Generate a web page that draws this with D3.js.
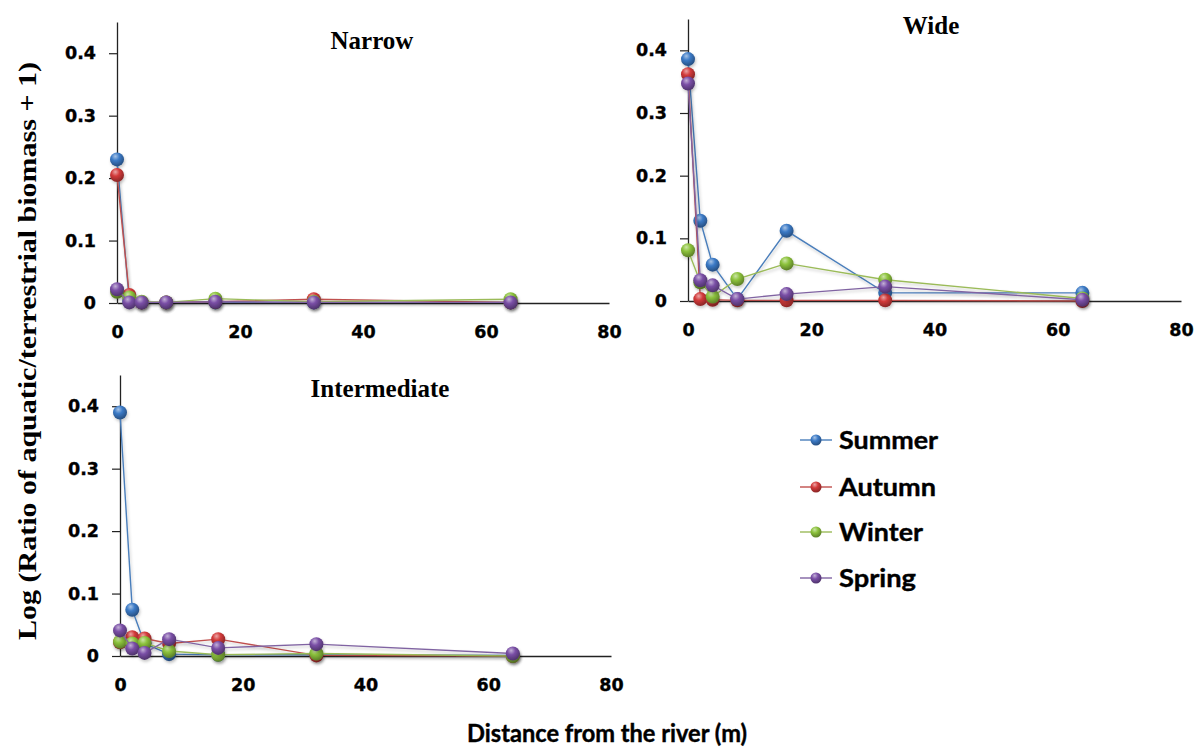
<!DOCTYPE html>
<html>
<head>
<meta charset="utf-8">
<script src="https://cdnjs.cloudflare.com/ajax/libs/d3/7.8.5/d3.min.js"></script>
<style>
  body { margin: 0; background: #fff; }
  svg { display: block; }
</style>
</head>
<body>
<svg id="chart" width="1196" height="749"></svg>
<script>
// Sampling distances (m) from the river
const distances = [0, 2, 4, 8, 16, 32, 64];
const seasons = ["Summer", "Autumn", "Winter", "Spring"];

// Narrow riparian zone
const narrowSummer = [0.230, 0.003, 0.001, 0.001, 0.001, 0.001, 0.001];
const narrowAutumn = [0.205, 0.013, 0.001, 0.001, 0.002, 0.006, 0.001];
const narrowWinter = [0.018, 0.009, 0.002, 0.001, 0.007, 0.002, 0.006];
const narrowSpring = [0.022, 0.001, 0.001, 0.001, 0.002, 0.001, 0.001];

// Wide riparian zone
const wideSummer = [0.386, 0.128, 0.058, 0.003, 0.112, 0.013, 0.013];
const wideAutumn = [0.362, 0.003, 0.002, 0.001, 0.001, 0.001, 0.000];
const wideWinter = [0.081, 0.030, 0.007, 0.035, 0.060, 0.034, 0.004];
const wideSpring = [0.347, 0.033, 0.025, 0.003, 0.011, 0.023, 0.002];

// Intermediate riparian zone
const interSummer = [0.390, 0.074, 0.020, 0.003, 0.002, 0.002, 0.001];
const interAutumn = [0.022, 0.030, 0.028, 0.020, 0.027, 0.001, 0.000];
const interWinter = [0.023, 0.020, 0.021, 0.008, 0.002, 0.004, 0.000];
const interSpring = [0.041, 0.012, 0.005, 0.027, 0.013, 0.019, 0.004];

const xTicks = [0, 20, 40, 60, 80];
const yTicks = [0, 0.1, 0.2, 0.3, 0.4];

const palette = {
  Summer: { line: "#4a7ebb", fill: "#3b7ac6" },
  Autumn: { line: "#c0504d", fill: "#d23a3a" },
  Winter: { line: "#9bbb59", fill: "#8cc23c" },
  Spring: { line: "#8064a2", fill: "#7a4fa6" }
};

const panels = [
  { title: "Narrow", series: [narrowSummer, narrowAutumn, narrowWinter, narrowSpring],
    left: 117, right: 609, base: 303, top: 22, titleX: 372, titleY: 49 },
  { title: "Wide", series: [wideSummer, wideAutumn, wideWinter, wideSpring],
    left: 688, right: 1181, base: 301, top: 19, titleX: 931, titleY: 34 },
  { title: "Intermediate", series: [interSummer, interAutumn, interWinter, interSpring],
    left: 120, right: 611, base: 656, top: 375, titleX: 380, titleY: 397 }
];

const svg = d3.select("#chart");
const defs = svg.append("defs");

// Glossy sphere gradients for markers
seasons.forEach(s => {
  const c = d3.color(palette[s].fill);
  const g = defs.append("radialGradient")
    .attr("id", "ball-" + s)
    .attr("cx", "40%").attr("cy", "32%").attr("r", "65%")
    .attr("fx", "38%").attr("fy", "28%");
  g.append("stop").attr("offset", "0%").attr("stop-color", d3.interpolateRgb(c, "#ffffff")(0.55));
  g.append("stop").attr("offset", "45%").attr("stop-color", c.formatHex());
  g.append("stop").attr("offset", "100%").attr("stop-color", c.darker(1.1).formatHex());
});

const shadow = defs.append("filter").attr("id", "soft-shadow")
  .attr("x", "-10%").attr("y", "-10%").attr("width", "130%").attr("height", "130%");
shadow.append("feDropShadow")
  .attr("dx", 1).attr("dy", 2).attr("stdDeviation", 1.6)
  .attr("flood-color", "#000").attr("flood-opacity", 0.22);

const tickFont = "'DejaVu Sans', Verdana, sans-serif";

function styleTickText(sel) {
  sel.attr("font-family", tickFont).attr("font-weight", "bold")
    .attr("font-size", 17.5).attr("fill", "#000")
    .attr("stroke", "#000").attr("stroke-width", 0.35);
}

panels.forEach(p => {
  const x = d3.scaleLinear().domain([0, 80]).range([p.left, p.right]);
  const y = d3.scaleLinear().domain([0, 0.45]).range([p.base, p.top]);

  const g = svg.append("g");

  // Y axis
  const yAxis = d3.axisLeft(y)
    .tickValues(yTicks)
    .tickSize(8)
    .tickSizeOuter(0)
    .tickPadding(13)
    .tickFormat(d => d === 0 ? "0" : d3.format(".1f")(d));
  const ya = g.append("g").attr("transform", `translate(${p.left},0)`).call(yAxis);
  ya.select(".domain").attr("stroke", "#222").attr("stroke-width", 1.3);
  ya.selectAll(".tick line").attr("stroke", "#222").attr("stroke-width", 1.2);
  ya.selectAll(".tick text").call(styleTickText);

  // X axis
  const xAxis = d3.axisBottom(x)
    .tickValues(xTicks)
    .tickSize(0)
    .tickSizeOuter(0)
    .tickPadding(23)
    .tickFormat(d3.format("d"));
  const xa = g.append("g").attr("transform", `translate(0,${p.base})`).call(xAxis);
  xa.select(".domain").attr("stroke", "#222").attr("stroke-width", 1.5);
  xa.selectAll(".tick text").call(styleTickText);

  // Panel title
  g.append("text")
    .attr("x", p.titleX).attr("y", p.titleY)
    .attr("text-anchor", "middle")
    .attr("font-family", "'Liberation Serif', 'Times New Roman', serif")
    .attr("font-weight", "bold").attr("font-size", 25)
    .text(p.title);

  // Series: lines then glossy markers
  const line = d3.line().x(d => x(d.d)).y(d => y(d.v));
  p.series.forEach((vals, i) => {
    const s = seasons[i];
    const pts = distances.map((d, k) => ({ d, v: vals[k] }));
    const sg = g.append("g").attr("filter", "url(#soft-shadow)");
    sg.append("path").datum(pts)
      .attr("d", line).attr("fill", "none")
      .attr("stroke", palette[s].line).attr("stroke-width", 1.4);
    sg.selectAll("circle").data(pts).join("circle")
      .attr("cx", d => x(d.d)).attr("cy", d => y(d.v))
      .attr("r", 7)
      .attr("fill", `url(#ball-${s})`);
  });
});

// Legend
const legendY = [440, 487, 532, 578];
const legendWidths = [99, 97, 84, 77];
const lg = svg.append("g");
seasons.forEach((s, i) => {
  const row = lg.append("g").attr("transform", `translate(0,${legendY[i]})`);
  row.append("line").attr("x1", 800).attr("x2", 832).attr("y1", 0).attr("y2", 0)
    .attr("stroke", palette[s].line).attr("stroke-width", 1.4);
  row.append("circle").attr("cx", 816).attr("cy", 0).attr("r", 5.5)
    .attr("fill", `url(#ball-${s})`);
  row.append("text").attr("x", 839).attr("y", 0).attr("dy", "0.36em")
    .attr("font-family", "Lato, 'Open Sans', sans-serif")
    .attr("font-weight", "bold").attr("font-size", 25)
    .attr("stroke", "#000").attr("stroke-width", 0.4)
    .attr("textLength", legendWidths[i]).attr("lengthAdjust", "spacingAndGlyphs")
    .text(s);
});

// Shared axis titles
svg.append("text")
  .attr("transform", "translate(36,351) rotate(-90)")
  .attr("text-anchor", "middle")
  .attr("font-family", "'Liberation Serif', 'Times New Roman', serif")
  .attr("font-weight", "bold").attr("font-size", 25)
  .attr("textLength", 578).attr("lengthAdjust", "spacingAndGlyphs")
  .text("Log (Ratio of aquatic/terrestrial biomass + 1)");

svg.append("text")
  .attr("x", 607).attr("y", 742)
  .attr("text-anchor", "middle")
  .attr("font-family", "Lato, 'Open Sans', sans-serif")
  .attr("font-weight", "bold").attr("font-size", 24)
  .attr("stroke", "#000").attr("stroke-width", 0.4)
  .attr("textLength", 280).attr("lengthAdjust", "spacingAndGlyphs")
  .text("Distance from the river (m)");
</script>
</body>
</html>
